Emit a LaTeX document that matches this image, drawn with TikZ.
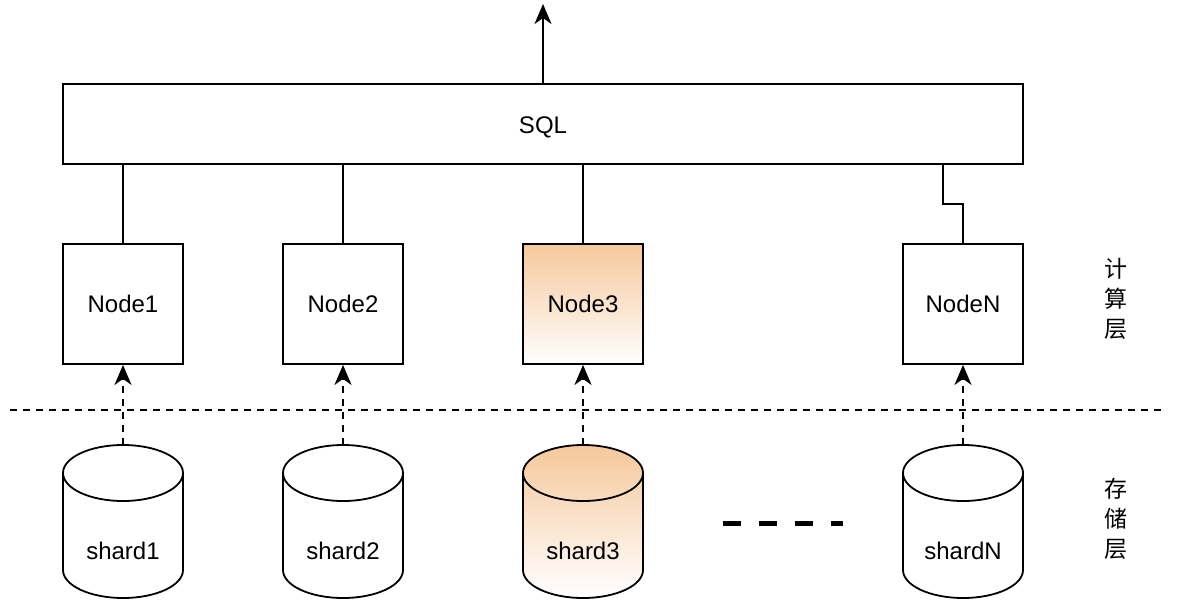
\documentclass[tikz,border=0pt]{standalone}
\usepackage{fontspec}
\setmainfont{Liberation Sans}
\newfontfamily\cjk{Noto Sans CJK SC}
\usetikzlibrary{arrows.meta,calc}
\definecolor{orangetop}{RGB}{245,200,155}
\tikzset{
  box/.style={draw, line width=1.8pt, minimum width=120pt, minimum height=120pt, inner sep=0pt, font=\fontsize{24}{26}\selectfont},
  hot/.style={top color=orangetop, bottom color=white},
  cylslot/.style={minimum width=120pt, minimum height=155pt, inner sep=0pt},
  cyltext/.style={font=\fontsize{24}{26}\selectfont},
  link/.style={line width=1.8pt},
  arr/.style={line width=1.8pt, -{Stealth[length=20pt,width=17pt,inset=6pt]}},
  darr/.style={arr, dash pattern=on 7pt off 6pt},
  layer/.style={font=\cjk\fontsize{23}{30}\selectfont, align=center}
}
\newcommand{\cylshape}[2]{% center x, fill options
  \path[#2] (#1-60,-473) -- (#1-60,-570) arc[start angle=180,end angle=360,x radius=60pt,y radius=28pt] -- (#1+60,-473) arc[start angle=0,end angle=180,x radius=60pt,y radius=28pt] -- cycle;
  \draw[line width=1.8pt] (#1-60,-473) -- (#1-60,-570) arc[start angle=180,end angle=360,x radius=60pt,y radius=28pt] -- (#1+60,-473) arc[start angle=0,end angle=180,x radius=60pt,y radius=28pt] -- cycle;
  \draw[line width=1.8pt] (#1-60,-473) arc[start angle=180,end angle=360,x radius=60pt,y radius=28pt];
}
\begin{document}
\begin{tikzpicture}[x=1pt,y=1pt]
\useasboundingbox[fill=white] (0,0) rectangle (1182,-610);
% SQL
\node[box, minimum width=960pt, minimum height=80pt] (sql) at (543,-124) {};
\node[font=\fontsize{24}{26}\selectfont] (sqltext) at (543,-127) {SQL};
\coordinate (out) at (543,-4);
\draw[arr] (sql.north) -- (out);
% compute nodes
\node[box] (n1) at (123,-304) {Node1};
\node[box] (n2) at (343,-304) {Node2};
\node[box, hot] (n3) at (583,-304) {Node3};
\node[box] (nN) at (963,-304) {NodeN};
\draw[link] (n1.north) -- (n1.north |- sql.south);
\draw[link] (n2.north) -- (n2.north |- sql.south);
\draw[link] (n3.north) -- (n3.north |- sql.south);
\coordinate (bend) at (943,-124);
\draw[link] (nN.north) -- ++(0,39) -| (bend |- sql.south);
% separator
\coordinate (sepL) at (10,-410);
\coordinate (sepR) at (1166,-410);
\draw[line width=1.8pt, dash pattern=on 7pt off 6pt] (sepL) -- (sepR);
% storage
\cylshape{123}{fill=white}
\cylshape{343}{fill=white}
\cylshape{583}{top color=orangetop, bottom color=white}
\cylshape{963}{fill=white}
\node[cylslot] (s1) at (123,-522.5) {};
\node[cylslot] (s2) at (343,-522.5) {};
\node[cylslot] (s3) at (583,-522.5) {};
\node[cylslot] (sN) at (963,-522.5) {};
\node[cyltext] (t1) at (123,-551) {shard1};
\node[cyltext] (t2) at (343,-551) {shard2};
\node[cyltext] (t3) at (583,-551) {shard3};
\node[cyltext] (tN) at (963,-551) {shardN};
\draw[darr] (s1.north) -- (n1.south);
\draw[darr] (s2.north) -- (n2.south);
\draw[darr] (s3.north) -- (n3.south);
\draw[darr] (sN.north) -- (nN.south);
% ellipsis
\coordinate (dotsL) at (723,-523);
\coordinate (dotsR) at (843,-523);
\draw[line width=5pt, dash pattern=on 18pt off 18pt] (dotsL) -- (dotsR);
% layer labels
\node[layer] (compute) at (1116,-299) {计\\算\\层};
\node[layer] (storage) at (1116,-519) {存\\储\\层};
\end{tikzpicture}
\end{document}
